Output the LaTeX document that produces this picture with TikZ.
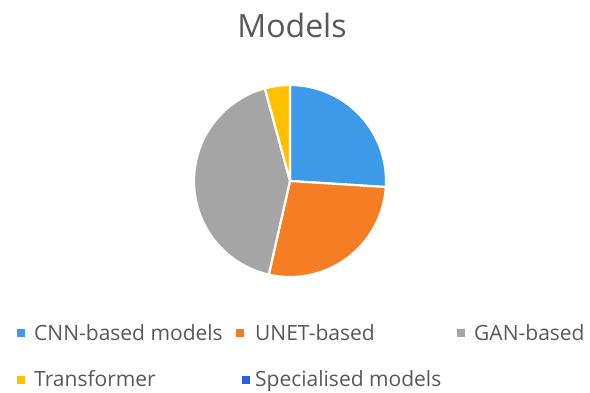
\documentclass[tikz,border=0pt]{standalone}
\usepackage{fontspec}
\setmainfont{Open Sans}
\definecolor{cnnblue}{HTML}{3D9AE8}
\definecolor{unetorange}{HTML}{F57D23}
\definecolor{gangray}{HTML}{A5A5A5}
\definecolor{trfyellow}{HTML}{FFC000}
\definecolor{specblue}{HTML}{2563E0}
\definecolor{labelgray}{HTML}{595959}
\tikzset{
  slice/.style={draw=white, line width=2.2pt, line join=round},
  legendkey/.style={minimum size=8pt, inner sep=0pt, draw=none},
  legendtext/.style={anchor=base west, inner sep=0pt, text=labelgray, font=\fontsize{21}{25}\selectfont},
}
\begin{document}
\begin{tikzpicture}[x=1pt, y=1pt]
\useasboundingbox (0,0) rectangle (590,392);
\fill[white] (0,0) rectangle (590,392);

% chart title
\node[anchor=base, inner sep=0pt, text=labelgray, font=\fontsize{32}{37}\selectfont] (title) at (292,354) {Models};

% pie slices, clockwise from twelve o'clock
\coordinate (c) at (290,211);
\def\pr{96}
\filldraw[slice, fill=cnnblue]    (c) -- ++(90:\pr)     arc[start angle=90,     end angle=-3.6,   radius=\pr] -- cycle;
\filldraw[slice, fill=unetorange] (c) -- ++(-3.6:\pr)   arc[start angle=-3.6,   end angle=-102.8, radius=\pr] -- cycle;
\filldraw[slice, fill=gangray]    (c) -- ++(-102.8:\pr) arc[start angle=-102.8, end angle=-254.8, radius=\pr] -- cycle;
\filldraw[slice, fill=trfyellow]  (c) -- ++(105.2:\pr)  arc[start angle=105.2,  end angle=90,     radius=\pr] -- cycle;

% legend, first row
\node[legendkey, fill=cnnblue]    (k1) at (21,59) {};
\node[legendtext] (t1) at (34,51.5) {CNN-based models};
\node[legendkey, fill=unetorange] (k2) at (240,59) {};
\node[legendtext] (t2) at (255,51.5) {UNET-based};
\node[legendkey, fill=gangray]    (k3) at (461,59) {};
\node[legendtext] (t3) at (474,51.5) {GAN-based};

% legend, second row
\node[legendkey, fill=trfyellow]  (k4) at (21,12.5) {};
\node[legendtext] (t4) at (34,5.5) {Transformer};
\node[legendkey, fill=specblue]   (k5) at (246,12.5) {};
\node[legendtext] (t5) at (255,5.5) {Specialised models};
\end{tikzpicture}
\end{document}
